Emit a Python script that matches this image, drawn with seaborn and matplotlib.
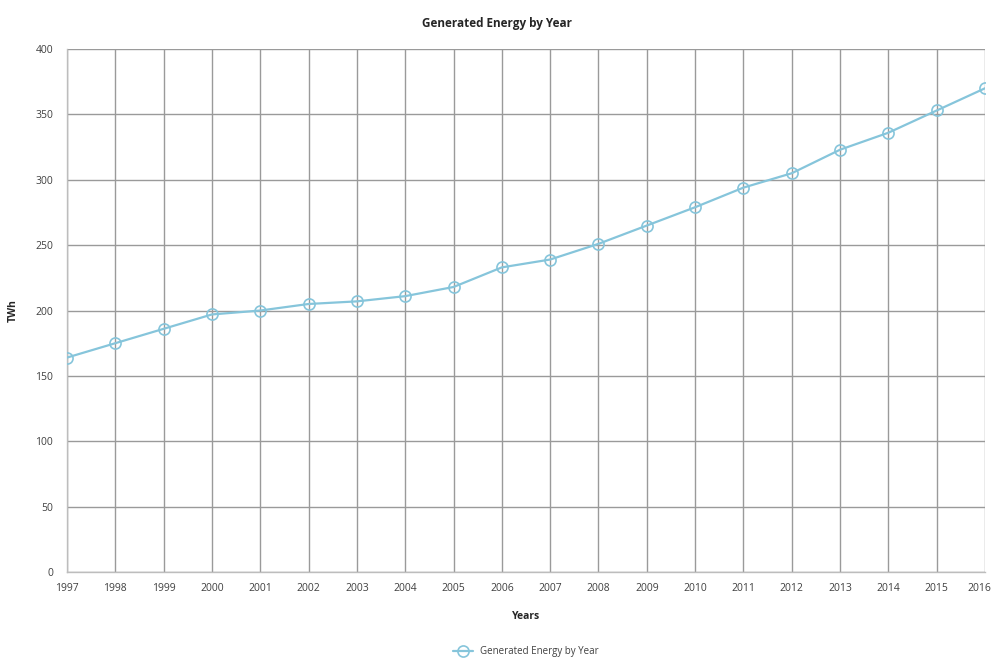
import matplotlib
matplotlib.use("Agg")
import matplotlib.pyplot as plt
import matplotlib.transforms as mtransforms
import seaborn as sns
import pandas as pd

years = list(range(1997, 2017))
energy_twh = [164, 175, 186, 197, 200, 205, 207, 211, 218, 233,
              239, 251, 265, 279, 294, 305, 323, 336, 353, 370]
y_ticks = [0, 50, 100, 150, 200, 250, 300, 350, 400]

series_name = "Generated Energy by Year"
df = pd.DataFrame({"Year": years, "TWh": energy_twh})

sns.set_theme(style="white")
plt.rcParams["font.family"] = ["Open Sans", "DejaVu Sans"]

fig = plt.figure(figsize=(9.95, 6.67), dpi=100)
ax = fig.add_axes([0.0673, 0.1424, 0.9227, 0.7841])

line_color = "#86c5db"
sns.lineplot(data=df, x="Year", y="TWh", ax=ax, color=line_color,
             linewidth=1.6, marker="o", markersize=8,
             markerfacecolor="none", markeredgecolor=line_color,
             markeredgewidth=1.2, label=series_name, zorder=3)

ax.set_xlim(years[0], years[-1])
ax.set_ylim(0, 400)
ax.set_xticks(years)
ax.set_xticklabels([str(y) for y in years])
ax.set_yticks(y_ticks)

ax.grid(True, color="#9a9a9a", linewidth=1.0)
ax.set_axisbelow(True)
for side in ["top", "right"]:
    ax.spines[side].set_visible(False)
for side in ["left", "bottom"]:
    ax.spines[side].set_color("#bdbdbd")
    ax.spines[side].set_linewidth(1.0)

ax.tick_params(axis="both", length=0, labelsize=7.5, colors="#404040")
ax.tick_params(axis="x", pad=8)
ax.tick_params(axis="y", pad=10)

# nudge the last year label so it stays inside the figure
last = ax.get_xticklabels()[-1]
last.set_transform(last.get_transform() +
                   mtransforms.ScaledTranslation(-6 / 100, 0, fig.dpi_scale_trans))

ax.set_xlabel("Years", fontsize=7.5, fontweight="bold", color="#262626", labelpad=12)
ax.set_ylabel("TWh", fontsize=7.5, fontweight="bold", color="#262626", labelpad=12)
fig.suptitle("Generated Energy by Year", fontsize=8.5, fontweight="bold",
             color="#262626", y=0.975)

ax.legend(loc="upper center", bbox_to_anchor=(0.5, -0.125), frameon=False,
          fontsize=7, handlelength=2.0, labelcolor="#404040")

fig.savefig("out.png", dpi=100, facecolor="white")
